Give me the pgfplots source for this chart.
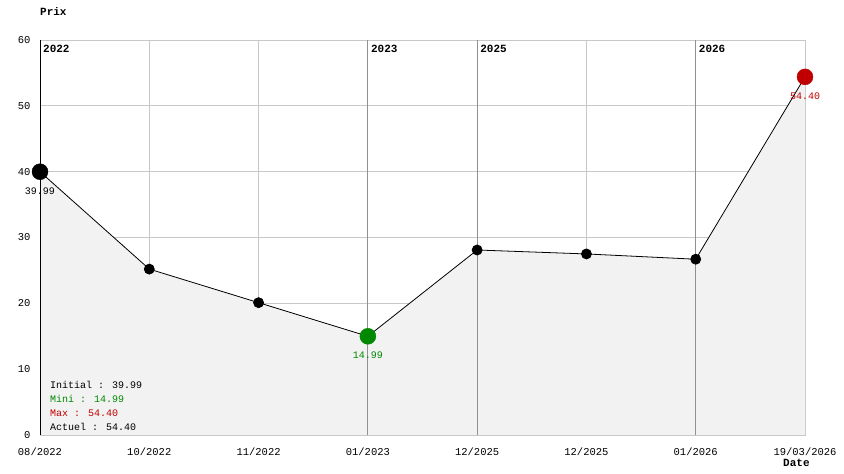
\documentclass[border=0pt]{standalone}
\usepackage{fontspec}
\setmainfont{Liberation Mono}
\usepackage{pgfplots}
\pgfplotsset{compat=1.18}
\definecolor{gridl}{HTML}{C8C8C8}
\definecolor{gridd}{HTML}{909090}
\definecolor{fillg}{HTML}{F2F2F2}
\definecolor{mingreen}{HTML}{008800}
\definecolor{maxred}{HTML}{C00000}
\begin{document}
\fontsize{10bp}{12bp}\selectfont
\begin{tikzpicture}[x=1bp,y=1bp]
\path[use as bounding box] (0,0) rectangle (844,474);
\begin{axis}[
  at={(40bp,39bp)}, anchor=south west,
  scale only axis, width=765bp, height=395bp,
  xmin=0, xmax=7, ymin=0, ymax=60,
  xtick={0,1,2,3,4,5,6,7},
  xticklabels={08/2022,10/2022,11/2022,01/2023,12/2025,12/2025,01/2026,19/03/2026},
  ytick={0,10,20,30,40,50,60},
  major tick length=0pt,
  xmajorgrids, ymajorgrids,
  grid style={gridl, line width=0.8bp},
  axis line style={gridl, line width=0.8bp},
  tick label style={font=\fontsize{10.5bp}{12bp}\selectfont},
  /pgf/number format/assume math mode=true,
  yticklabel style={xshift=-6bp},
  xticklabel style={yshift=-9bp},
  extra x ticks={0,3,4,6},
  extra x tick labels={},
  extra x tick style={grid=major, major grid style={gridd, line width=0.8bp}},
  clip=false,
  axis on top=false,
]
\addplot[fill=fillg, draw=none] coordinates {
(0,39.99) (1,25.2) (2,20.1) (3,14.99) (4,28.1) (5,27.5) (6,26.7) (7,54.40)
} \closedcycle;
\draw[gridd, line width=0.8bp] (axis cs:3,0) -- (axis cs:3,60);
\draw[gridd, line width=0.8bp] (axis cs:4,0) -- (axis cs:4,60);
\draw[gridd, line width=0.8bp] (axis cs:6,0) -- (axis cs:6,60);
\draw[black, line width=1bp] (axis cs:0,0) -- (axis cs:0,60);
\addplot[black, line width=0.8bp, mark=*, mark size=5bp, mark options={fill=black}] coordinates {
(0,39.99) (1,25.2) (2,20.1) (3,14.99) (4,28.1) (5,27.5) (6,26.7) (7,54.40)
};
\addplot[only marks, mark=*, mark size=8bp, black, mark options={fill=black}] coordinates {(0,39.99)};
\addplot[only marks, mark=*, mark size=8bp, mingreen, mark options={fill=mingreen}] coordinates {(3,14.99)};
\addplot[only marks, mark=*, mark size=8bp, maxred, mark options={fill=maxred}] coordinates {(7,54.40)};
\node[black] at ([yshift=-19bp]axis cs:0,39.99) {39.99};
\node[mingreen] at ([yshift=-19bp]axis cs:3,14.99) {14.99};
\node[maxred] at ([yshift=-19bp]axis cs:7,54.40) {54.40};
\node[anchor=north west, inner sep=0pt, font=\bfseries\fontsize{11bp}{12bp}\selectfont] at ([xshift=3bp,yshift=-5bp]axis cs:0,60) {2022};
\node[anchor=north west, inner sep=0pt, font=\bfseries\fontsize{11bp}{12bp}\selectfont] at ([xshift=3bp,yshift=-5bp]axis cs:3,60) {2023};
\node[anchor=north west, inner sep=0pt, font=\bfseries\fontsize{11bp}{12bp}\selectfont] at ([xshift=3bp,yshift=-5bp]axis cs:4,60) {2025};
\node[anchor=north west, inner sep=0pt, font=\bfseries\fontsize{11bp}{12bp}\selectfont] at ([xshift=3bp,yshift=-5bp]axis cs:6,60) {2026};
\end{axis}
\node[anchor=west, inner sep=0pt, font=\bfseries\fontsize{11bp}{12bp}\selectfont] at (40,462) {Prix};
\node[anchor=west, inner sep=0pt, font=\bfseries\fontsize{11bp}{12bp}\selectfont] at (783,11) {Date};
\node[anchor=west, inner sep=0pt, black] at (50,89) {Initial : 39.99};
\node[anchor=west, inner sep=0pt, mingreen] at (50,75) {Mini : 14.99};
\node[anchor=west, inner sep=0pt, maxred] at (50,61) {Max : 54.40};
\node[anchor=west, inner sep=0pt, black] at (50,47) {Actuel : 54.40};
\end{tikzpicture}
\end{document}
